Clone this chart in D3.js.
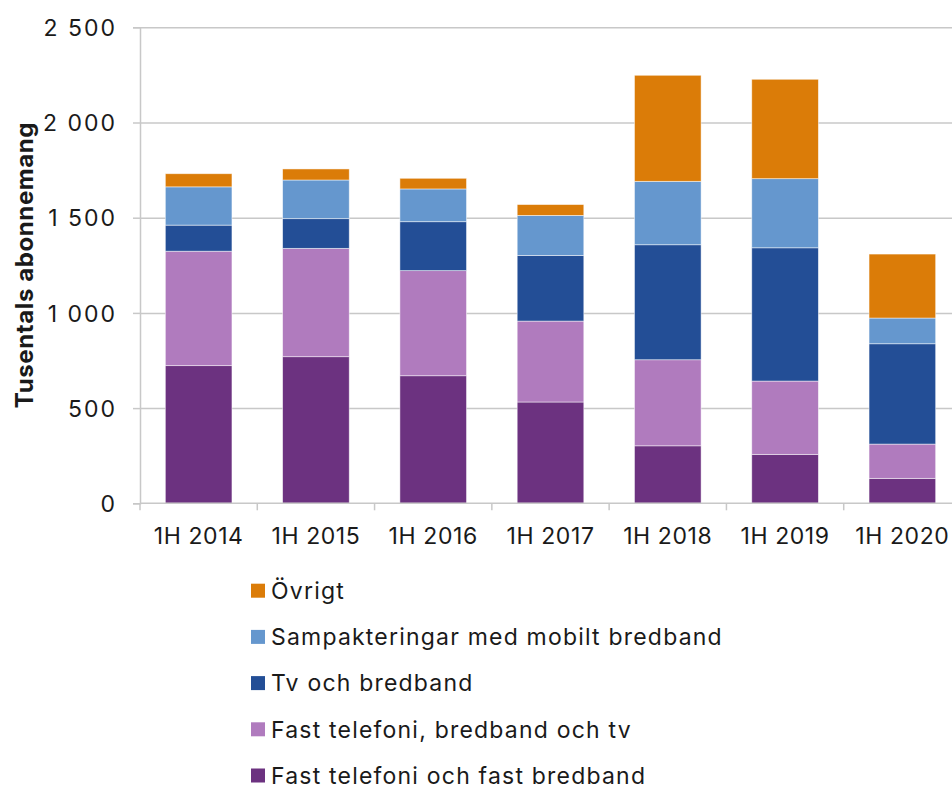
<!DOCTYPE html>
<html lang="sv">
<head>
<meta charset="UTF-8">
<title>Abonnemang</title>
<script src="https://cdn.jsdelivr.net/npm/d3@7"></script>
<style>
  body { margin: 0; background: #fff; }
  svg text { font-family: Inter, "Liberation Sans", Arial, sans-serif; fill: #1a1a1a; }
  .grid line { stroke: #c8c8c8; stroke-width: 1.5; }
  .grid path { stroke-width: 0; }
</style>
</head>
<body>
<script>
// data (tusentals abonnemang)
const categories = ["1H 2014", "1H 2015", "1H 2016", "1H 2017", "1H 2018", "1H 2019", "1H 2020"];
const seriesNames = ["Fast telefoni och fast bredband", "Fast telefoni, bredband och tv",
  "Tv och bredband", "Sampakteringar med mobilt bredband", "Övrigt"];
const fastTelefoniBredband = [723, 770, 670, 532, 302, 257, 131];
const fastTelefoniBredbandTv = [601, 569, 552, 425, 452, 385, 180];
const tvOchBredband = [137, 156, 257, 345, 604, 700, 527];
const sampakteringar = [201, 203, 172, 210, 333, 363, 135];
const ovrigt = [69, 58, 56, 57, 557, 522, 336];
const yTickValues = [0, 500, 1000, 1500, 2000, 2500];
const yTickLabels = ["0", "500", "1 000", "1 500", "2 000", "2 500"];
const colors = ["#6c3280", "#b07bbe", "#234e96", "#6597ce", "#db7c08"];

const W = 952, H = 787;
const plot = { left: 140, right: 961, top: 27.3, bottom: 503.3 };

const svg = d3.select("body").append("svg")
  .attr("width", W).attr("height", H);

const rows = categories.map((c, i) => ({
  cat: c,
  s0: fastTelefoniBredband[i],
  s1: fastTelefoniBredbandTv[i],
  s2: tvOchBredband[i],
  s3: sampakteringar[i],
  s4: ovrigt[i]
}));
const keys = ["s0", "s1", "s2", "s3", "s4"];
const stacked = d3.stack().keys(keys)(rows);

const x = d3.scaleBand().domain(categories)
  .range([plot.left, plot.right])
  .paddingInner(0.432).paddingOuter(0.216);
const y = d3.scaleLinear().domain([0, 2500]).range([plot.bottom, plot.top]);

// gridlines
svg.append("g")
  .attr("class", "grid")
  .attr("transform", `translate(${plot.left},0)`)
  .call(d3.axisLeft(y).tickValues(yTickValues.slice(1))
    .tickSize(-(plot.right - plot.left)).tickFormat(""));

// y axis
const yAxis = svg.append("g")
  .attr("transform", `translate(${plot.left},0)`)
  .call(d3.axisLeft(y).tickValues(yTickValues).tickSize(7).tickPadding(16)
    .tickFormat((d, i) => yTickLabels[i]));
yAxis.select(".domain").attr("stroke", "#c8c8c8").attr("stroke-width", 1.5);
yAxis.selectAll(".tick line").attr("stroke", "#c8c8c8").attr("stroke-width", 1.5);
yAxis.selectAll("text").attr("font-size", 23).attr("dy", "0.36em")
  .style("font-family", 'Inter, "Liberation Sans", Arial, sans-serif')
  .style("letter-spacing", "2px").attr("fill", "#1a1a1a");

// bars
svg.append("g").selectAll("g")
  .data(stacked).enter().append("g")
  .attr("fill", (d, i) => colors[i])
  .selectAll("rect")
  .data(d => d).enter().append("rect")
  .attr("x", d => x(d.data.cat))
  .attr("width", x.bandwidth())
  .attr("y", d => y(d[1]))
  .attr("height", d => y(d[0]) - y(d[1]))
  .attr("stroke", "#ffffff")
  .attr("stroke-opacity", 0.6)
  .attr("stroke-width", 0.8);

// x axis line and ticks between categories
svg.append("line")
  .attr("x1", plot.left).attr("x2", plot.right)
  .attr("y1", plot.bottom).attr("y2", plot.bottom)
  .attr("stroke", "#c8c8c8").attr("stroke-width", 1.5);
const gap = x.step() - x.bandwidth();
const bounds = categories.map(c => x(c) - gap / 2).concat([plot.right]);
svg.append("g").selectAll("line")
  .data(bounds).enter().append("line")
  .attr("x1", d => d).attr("x2", d => d)
  .attr("y1", plot.bottom).attr("y2", plot.bottom + 7)
  .attr("stroke", "#c8c8c8").attr("stroke-width", 1.5);

svg.append("g").selectAll("text")
  .data(categories).enter().append("text")
  .attr("x", d => x(d) + x.bandwidth() / 2)
  .attr("y", 544)
  .attr("text-anchor", "middle")
  .attr("font-size", 23)
  .style("letter-spacing", "0.6px")
  .text(d => d);

// y axis title
svg.append("text")
  .attr("transform", `translate(33,265) rotate(-90)`)
  .attr("text-anchor", "middle")
  .attr("font-size", 24)
  .attr("font-weight", "bold")
  .style("letter-spacing", "0.6px")
  .text("Tusentals abonnemang");

// legend, top to bottom: Övrigt first
const legend = svg.append("g").selectAll("g")
  .data(seriesNames.map((n, i) => ({ name: n, color: colors[i] })).reverse())
  .enter().append("g")
  .attr("transform", (d, i) => `translate(251,${590.7 + i * 46.2})`);
legend.append("rect")
  .attr("x", 0).attr("y", -7)
  .attr("width", 14).attr("height", 14)
  .attr("fill", d => d.color);
legend.append("text")
  .attr("x", 20).attr("y", 0).attr("dy", "0.36em")
  .attr("font-size", 23)
  .style("letter-spacing", "1.2px")
  .text(d => d.name);
</script>
</body>
</html>
